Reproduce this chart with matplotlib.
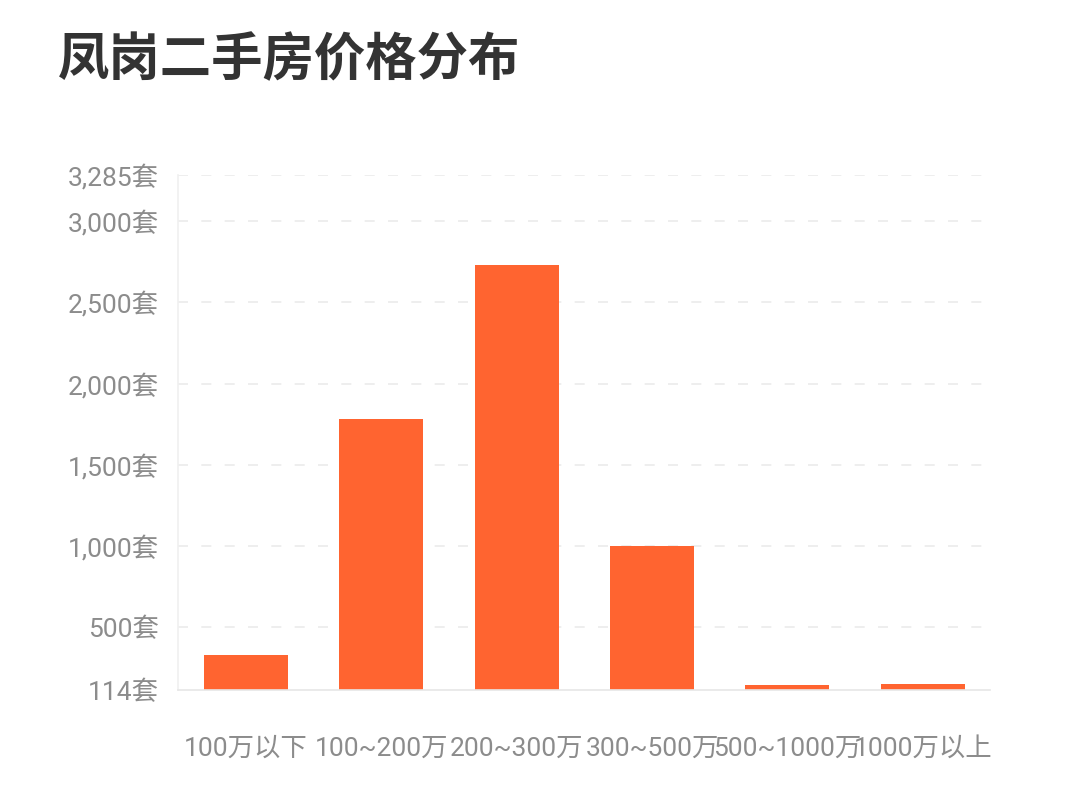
import matplotlib.pyplot as plt

plt.rcParams['font.family'] = ['Roboto', 'Noto Sans CJK SC', 'DejaVu Sans']

categories = ["100万以下", "100~200万", "200~300万", "300~500万", "500~1000万", "1000万以上"]
counts = [327, 1780, 2732, 1000, 144, 150]
y_ticks = [114, 500, 1000, 1500, 2000, 2500, 3000, 3285]
y_min, y_max = 114, 3285

fig = plt.figure(figsize=(10.8, 8), dpi=100)
ax = fig.add_axes([0.165, 0.1375, 0.752, 0.644])

x = range(len(categories))
ax.bar(x, [c - y_min for c in counts], bottom=y_min, width=0.62,
       color="#FF6430", zorder=2)

ax.set_xlim(-0.5, len(categories) - 0.5)
ax.set_ylim(y_min, y_max)
ax.set_yticks(y_ticks)
ax.set_yticklabels([f"{v:,}套" for v in y_ticks])
ax.set_xticks(list(x))
ax.set_xticklabels(categories)

ax.tick_params(axis="y", length=0, pad=14, labelsize=19, labelcolor="#8c8c8c")
ax.tick_params(axis="x", length=0, pad=34, labelsize=19, labelcolor="#8c8c8c")

# grade tracejada
for v in y_ticks[1:]:
    ax.axhline(v, color="#ebebeb", linestyle=(0, (6, 8)), linewidth=1.2, zorder=1)

for s in ["top", "right"]:
    ax.spines[s].set_visible(False)
ax.spines["left"].set_color("#f0f0f0")
ax.spines["bottom"].set_color("#e6e6e6")
ax.spines["left"].set_linewidth(1.2)
ax.spines["bottom"].set_linewidth(1.2)

fig.text(0.054, 0.925, "凤岗二手房价格分布", fontsize=37, fontweight="bold",
         color="#333333", ha="left", va="center",
         family=['Noto Sans CJK SC', 'DejaVu Sans'])

fig.savefig("out.png", dpi=100)
